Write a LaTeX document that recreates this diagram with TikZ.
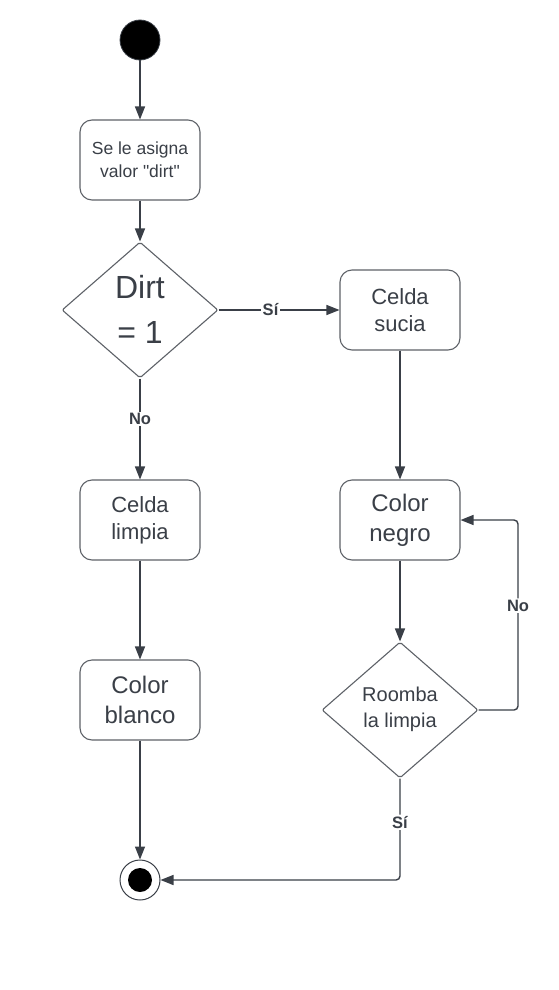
\documentclass[tikz,border=0pt]{standalone}
\usepackage{fontspec}
\setmainfont{Liberation Sans}[Ligatures=TeXOff]
\usetikzlibrary{arrows.meta,shapes.geometric}
\definecolor{ink}{HTML}{3A3F47}
\definecolor{edge}{HTML}{5E6268}
\tikzset{
  actbox/.style={draw=edge, line width=1.1pt, rounded corners=12pt, minimum width=120pt, minimum height=80pt, inner sep=0pt, align=center, text=ink},
  decis/.style={draw=edge, line width=1.1pt, shape=diamond, minimum width=156pt, minimum height=136pt, inner sep=0pt, rounded corners=2pt},
  flow/.style={draw=ink, line width=1.4pt, -{Triangle[length=13pt,width=10pt]}},
  elab/.style={fill=white, inner sep=1.5pt, font=\fontsize{16.5}{19}\selectfont\bfseries, text=ink},
}
\begin{document}
\begin{tikzpicture}[x=1pt,y=-1pt]
\useasboundingbox (0,0) rectangle (558,990);
\fill[white] (0,0) rectangle (558,990);
% start
\node[circle, fill=black, draw=ink, line width=0.8pt, minimum size=40pt, inner sep=0pt] (start) at (140,40) {};
\node[actbox, font=\fontsize{17.5}{22.6}\selectfont] (n1) at (140,160) {Se le asigna\\valor "dirt"};
\node[decis] (d1) at (140,310) {};
\node[align=center, text=ink, font=\fontsize{32}{45}\selectfont, inner sep=0pt] (d1t) at (140,309) {Dirt\\= 1};
\node[actbox, font=\fontsize{22}{26.7}\selectfont] (s1) at (400,310) {Celda\\sucia};
\node[actbox, font=\fontsize{22}{26.7}\selectfont] (l1) at (140,520) {Celda\\limpia};
\node[actbox, font=\fontsize{24}{30}\selectfont] (negro) at (400,520) {Color\\negro};
\node[actbox, font=\fontsize{24}{30}\selectfont] (blanco) at (140,700) {Color\\blanco};
\node[decis] (d2) at (400,710) {};
\node[align=center, text=ink, font=\fontsize{20}{26}\selectfont, inner sep=0pt] (d2t) at (400,709) {Roomba\\la limpia};
% end
\node[circle, draw=ink, line width=1pt, fill=white, minimum size=40pt, inner sep=0pt] (end) at (140,880) {};
\node[circle, fill=black, minimum size=24pt, inner sep=0pt] (endin) at (end.center) {};
\coordinate (c1) at (518,710);
\coordinate (c2) at (518,520);
\coordinate (c3) at (400,880);
% connectors
\draw[flow] (start) -- (n1);
\draw[flow] (n1) -- (d1.north);
\draw[flow] (d1.east) -- node[elab, pos=0.43] (lsi1) {Sí} (s1.west);
\draw[flow] (d1.south) -- node[elab, pos=0.4] (lno1) {No} (l1.north);
\draw[flow] (s1) -- (negro);
\draw[flow] (l1) -- (blanco);
\draw[flow] (negro) -- (d2.north);
\draw[flow] (blanco) -- (end);
\draw[flow, rounded corners=4pt] (d2.east) -- (c1) -- node[elab, pos=0.55] (lno2) {No} (c2) -- (negro.east);
\draw[flow, rounded corners=4pt] (d2.south) -- node[elab, pos=0.43] (lsi2) {Sí} (c3) -- (end.east);
\end{tikzpicture}
\end{document}
